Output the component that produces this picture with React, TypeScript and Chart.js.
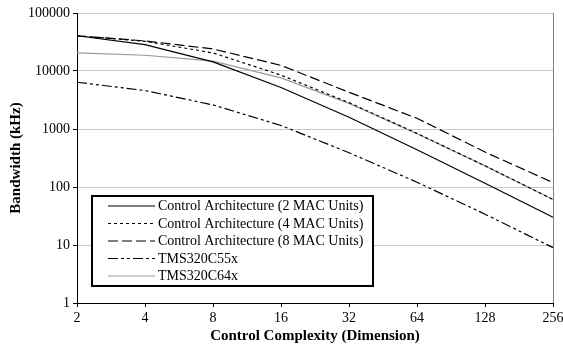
import React, { useEffect, useRef } from "react";
import { Chart, registerables } from "chart.js";

Chart.register(...registerables);

const categories = ["2", "4", "8", "16", "32", "64", "128", "256"];
const seriesNames = [
  "Control Architecture (2 MAC Units)",
  "Control Architecture (4 MAC Units)",
  "Control Architecture (8 MAC Units)",
  "TMS320C55x",
  "TMS320C64x",
];
const arch2 = [40500, 28500, 14400, 5200, 1590, 440, 116, 30];
const arch4 = [40500, 32500, 20500, 8500, 2850, 840, 232, 61];
const arch8 = [40500, 33000, 24000, 12500, 4300, 1530, 400, 119];
const c55x = [6400, 4600, 2600, 1150, 390, 121, 34, 9];
const c64x = [20500, 18700, 14800, 7600, 2770, 830, 231, 61];
const yTicks = [1, 10, 100, 1000, 10000, 100000];

const FONT = "'Liberation Serif', 'Times New Roman', serif";

const legendPlugin = {
  id: "boxLegend",
  afterDraw(chart: any) {
    const { ctx, chartArea } = chart;
    const left = chartArea.left + 15;
    const top = chartArea.top + 183;
    const w = 281;
    const h = 90;
    ctx.save();
    ctx.fillStyle = "#fff";
    ctx.fillRect(left, top, w, h);
    ctx.lineWidth = 2;
    ctx.strokeStyle = "#000";
    ctx.setLineDash([]);
    ctx.strokeRect(left, top, w, h);
    ctx.font = "14px " + FONT;
    ctx.textBaseline = "middle";
    ctx.fillStyle = "#000";
    chart.data.datasets.forEach((ds: any, i: number) => {
      const y = top + 10 + i * 17.5;
      ctx.beginPath();
      ctx.setLineDash(ds.borderDash || []);
      ctx.strokeStyle = ds.borderColor;
      ctx.lineWidth = ds.borderWidth;
      ctx.moveTo(left + 16, y);
      ctx.lineTo(left + 63, y);
      ctx.stroke();
      ctx.setLineDash([]);
      ctx.fillText(ds.label, left + 66, y + 0.5);
    });
    ctx.restore();
  },
  beforeDatasetsDraw(chart: any) {
    const { ctx, chartArea } = chart;
    ctx.save();
    ctx.strokeStyle = "#808080";
    ctx.lineWidth = 1;
    ctx.beginPath();
    ctx.moveTo(chartArea.right + 0.5, chartArea.top);
    ctx.lineTo(chartArea.right + 0.5, chartArea.bottom);
    ctx.stroke();
    ctx.restore();
  },
};

export default function App() {
  const ref = useRef<HTMLCanvasElement>(null);
  useEffect(() => {
    document.body.style.margin = "0";
    const mk = (label: string, data: number[], color: string, dash: number[], width = 1.2) => ({
      label,
      data,
      borderColor: color,
      backgroundColor: color,
      borderDash: dash,
      borderWidth: width,
      pointRadius: 0,
      tension: 0,
      fill: false,
    });
    const chart = new Chart(ref.current!, {
      type: "line",
      data: {
        labels: categories,
        datasets: [
          mk(seriesNames[0], arch2, "#000", []),
          mk(seriesNames[1], arch4, "#000", [3, 3]),
          mk(seriesNames[2], arch8, "#000", [10, 4]),
          mk(seriesNames[3], c55x, "#000", [10, 3, 3, 3, 3, 3]),
          mk(seriesNames[4], c64x, "#999", []),
        ],
      },
      options: {
        animation: false,
        responsive: false,
        devicePixelRatio: 1,
        layout: { padding: { left: 0, top: 13, right: 10, bottom: 0 } },
        plugins: { legend: { display: false }, tooltip: { enabled: false } },
        scales: {
          x: {
            type: "category",
            offset: false,
            grid: {
              display: true,
              drawOnChartArea: false,
              drawTicks: true,
              tickLength: 4,
              tickColor: "#000",
            },
            border: { display: true, color: "#000", width: 1 },
            ticks: {
              color: "#000",
              font: { family: FONT, size: 14 },
              padding: 3,
              maxRotation: 0,
              autoSkip: false,
            },
            title: {
              display: true,
              text: "Control Complexity (Dimension)",
              color: "#000",
              font: { family: FONT, size: 15, weight: "bold" },
              padding: { top: 0, bottom: 0 },
            },
            afterFit: (s: any) => {
              s.height = 42;
              s.paddingRight = 0;
              s.paddingLeft = 0;
            },
          },
          y: {
            type: "logarithmic",
            min: 1,
            max: 100000,
            afterBuildTicks: (s: any) => {
              s.ticks = yTicks.map((v) => ({ value: v, major: true }));
            },
            grid: {
              color: "#c8c8c8",
              drawTicks: true,
              tickLength: 4,
              tickColor: "#000",
            },
            border: { display: true, color: "#000", width: 1 },
            ticks: {
              color: "#000",
              font: { family: FONT, size: 14 },
              padding: 3,
              callback: (v: any) => String(v),
            },
            title: {
              display: true,
              text: "Bandwidth (kHz)",
              color: "#000",
              font: { family: FONT, size: 15, weight: "bold" },
              padding: { top: 7, bottom: 0 },
            },
            afterFit: (s: any) => {
              s.width = 77;
              s.paddingTop = 0;
              s.paddingBottom = 0;
            },
          },
        },
      },
      plugins: [legendPlugin],
    } as any);
    return () => chart.destroy();
  }, []);
  return (
    <div style={{ width: 563, height: 345 }}>
      <canvas ref={ref} width={563} height={345} />
    </div>
  );
}
